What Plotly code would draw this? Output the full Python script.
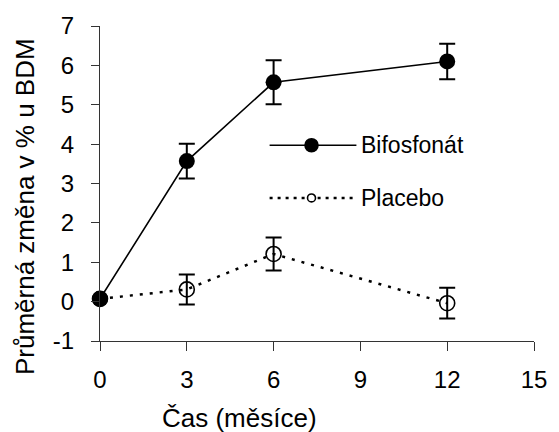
import plotly.graph_objects as go

months = [0, 3, 6, 12]
bifo = [0.07, 3.57, 5.57, 6.10]
bifo_err = [0.0, 0.44, 0.56, 0.45]
placebo = [0.07, 0.31, 1.21, -0.04]
placebo_err = [0.0, 0.38, 0.42, 0.39]
x_ticks = [0, 3, 6, 9, 12, 15]
y_ticks = [-1, 0, 1, 2, 3, 4, 5, 6, 7]
y_tick_labels = ["-1", "0", "1", "2", "3", "4", "5", "6", "7"]
series_names = ["Bifosfonát", "Placebo"]
x_title = "Čas (měsíce)"
y_title = "Průměrná změna v % u BDM"

FONT = "Liberation Sans, Arial, sans-serif"
W, H = 559, 432
L, R, T, B = 100, 24, 24, 91
pw, ph = W - L - R, H - T - B

def px(xp):
    return (xp - L) / pw

def py(yp):
    return (H - B - yp) / ph

fig = go.Figure()
fig.add_trace(go.Scatter(
    x=months, y=placebo, mode="lines+markers", name=series_names[1],
    line=dict(color="black", width=2.5, dash="3px,7px"),
    marker=dict(symbol="circle-open", size=15, color="black", line=dict(width=1.6)),
    error_y=dict(type="data", array=placebo_err, color="black", thickness=2, width=8),
    cliponaxis=False, showlegend=False,
))
fig.add_trace(go.Scatter(
    x=months, y=bifo, mode="lines+markers", name=series_names[0],
    line=dict(color="black", width=1.6),
    marker=dict(symbol="circle", size=16, color="black"),
    error_y=dict(type="data", array=bifo_err, color="black", thickness=2, width=8),
    cliponaxis=False, showlegend=False,
))

shapes = []
annotations = []
# manual legend
for i, (yy, name) in enumerate([(144, series_names[0]), (197, series_names[1])]):
    dash = "solid" if i == 0 else "3px,5px"
    lw = 1.6 if i == 0 else 2.5
    shapes.append(dict(type="line", xref="paper", yref="paper",
                       x0=px(270), x1=px(357), y0=py(yy), y1=py(yy),
                       line=dict(color="black", width=lw, dash=dash)))
    r = 6.5 if i == 0 else 4
    shapes.append(dict(type="circle", xref="paper", yref="paper",
                       x0=px(312 - r), x1=px(312 + r), y0=py(yy - r), y1=py(yy + r),
                       fillcolor="black" if i == 0 else "white",
                       line=dict(color="black", width=1.6)))
    annotations.append(dict(xref="paper", yref="paper", x=px(360), y=py(yy),
                            text=name, showarrow=False, xanchor="left", yanchor="middle",
                            font=dict(family=FONT, size=23, color="black")))

annotations.append(dict(xref="paper", yref="paper", x=px(240), y=py(418),
                        text=x_title, showarrow=False, xanchor="center", yanchor="middle",
                        font=dict(family=FONT, size=26, color="black")))
annotations.append(dict(xref="paper", yref="paper", x=px(25), y=py(206),
                        text=y_title, showarrow=False, textangle=-90,
                        xanchor="center", yanchor="middle",
                        font=dict(family=FONT, size=26, color="black")))

fig.update_layout(
    width=W, height=H,
    margin=dict(l=L, r=R, t=T, b=B),
    paper_bgcolor="white", plot_bgcolor="white",
    font=dict(family=FONT, size=24, color="black"),
    shapes=shapes, annotations=annotations,
    xaxis=dict(range=[0, 15], tickvals=x_ticks, showgrid=False, zeroline=False,
               showline=True, linecolor="#333", linewidth=1.3,
               ticks="outside", ticklen=9, tickcolor="#333", tickwidth=1.3,
               ticklabelstandoff=8, tickfont=dict(size=24)),
    yaxis=dict(range=[-1, 7], tickvals=y_ticks, ticktext=y_tick_labels,
               showgrid=False, zeroline=False,
               showline=True, linecolor="#333", linewidth=1.3,
               ticks="outside", ticklen=8, tickcolor="#333", tickwidth=1.3,
               ticklabelstandoff=12, tickfont=dict(size=24)),
)

fig.write_html("out.html", config={"displayModeBar": False},
               post_script="document.body.style.margin='0px';document.body.style.overflow='hidden';")
